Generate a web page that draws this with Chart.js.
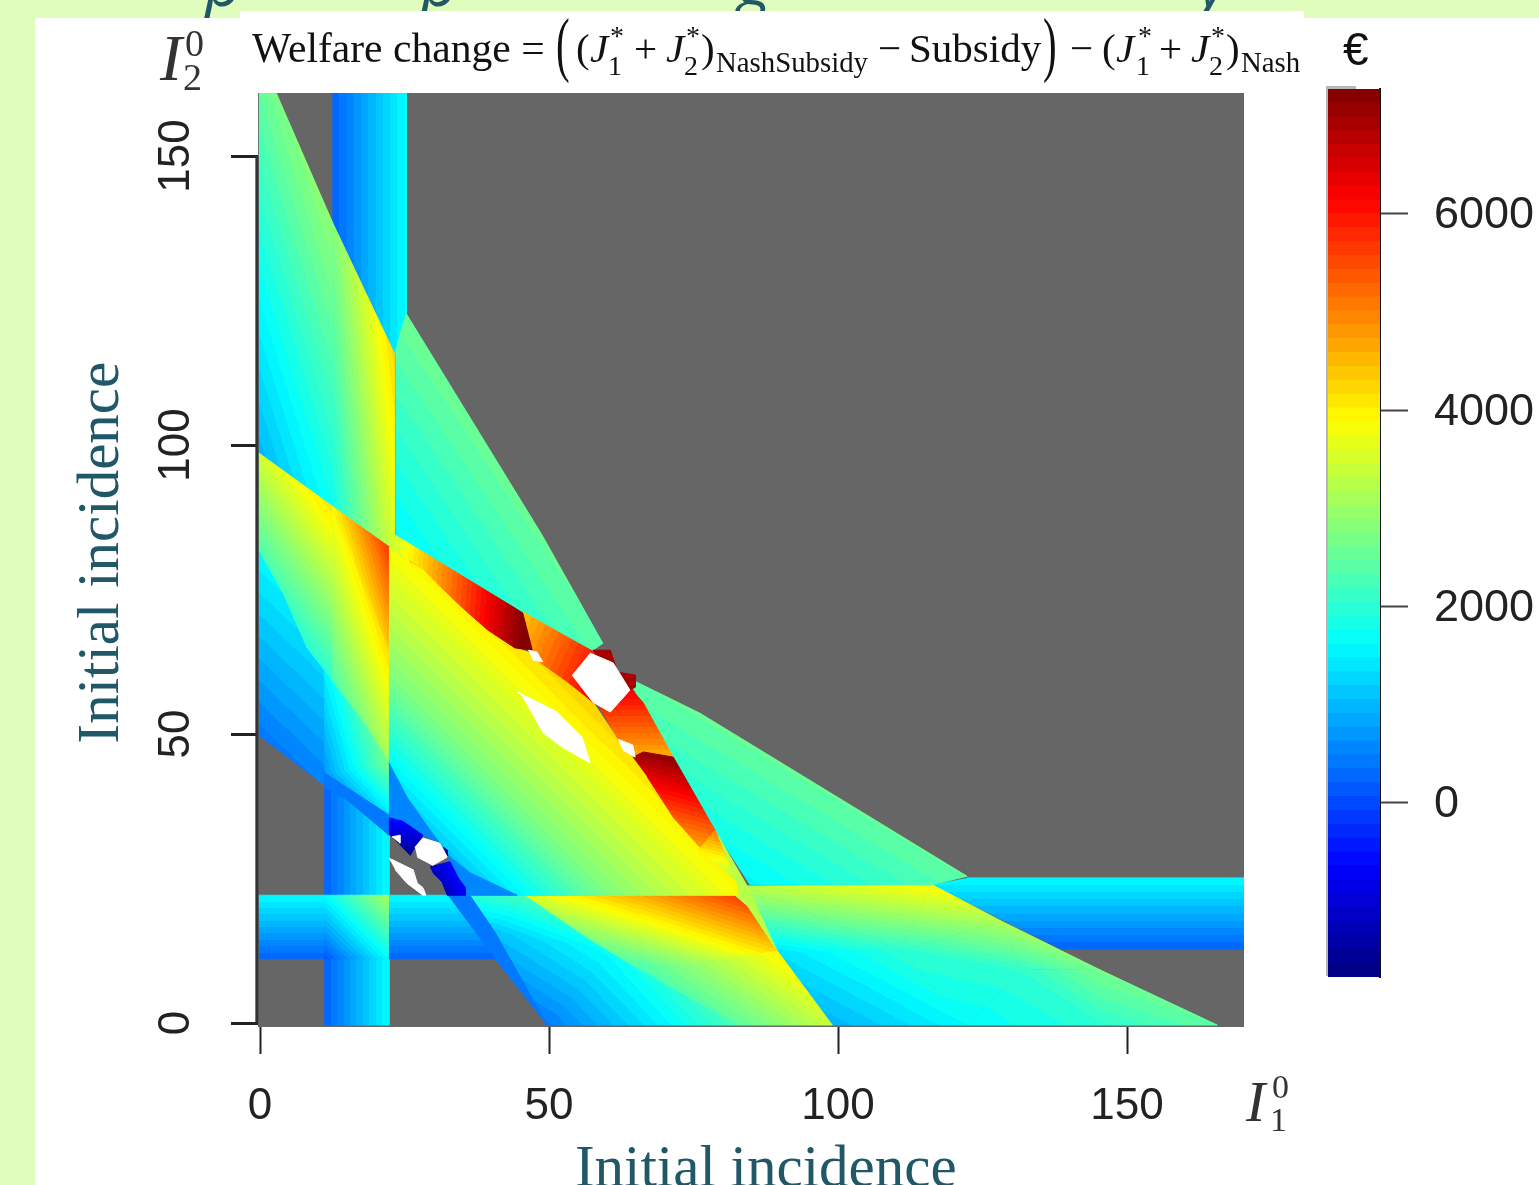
<!DOCTYPE html>
<html>
<head>
<meta charset="utf-8">
<title>Welfare change</title>
<script src="https://cdn.jsdelivr.net/npm/chart.js@4"></script>
<style>
  html, body { margin: 0; padding: 0; background: #fff; }
  #page { position: relative; width: 1539px; height: 1185px; overflow: hidden; background: #e1fdbe; }
  .panel { position: absolute; background: #fff; }
  #main { position: absolute; left: 0; top: 0; }
  #bar { position: absolute; left: 1328px; top: 36px; }
  .t { position: absolute; white-space: pre; line-height: 1; font-family: "Liberation Serif", serif; color: #111; font-size: 41px; }
  .i { font-style: italic; }
  .s { font-size: 28px; }
  .n { font-size: 28.8px; }
  .big { transform: scale(1, 1.75); transform-origin: 0 62%; }
  .head { position: absolute; white-space: pre; line-height: 1; font: italic 64px "Open Sans", sans-serif; color: #215868; top: -62px; }
</style>
</head>
<body>
<div id="page">
  <span class="head" style="left:205px">p</span>
  <span class="head" style="left:421px">p</span>
  <span class="head" style="left:738px">g</span>
  <span class="head" style="left:1198px">y</span>
  <div class="panel" style="left:35px;top:18px;width:1504px;height:1167px"></div>
  <div class="panel" style="left:240px;top:11px;width:1064px;height:8px"></div>
  <div class="panel" style="left:1326px;top:86px;width:30px;height:890px;background:#b8b8b8"></div>
  <canvas id="main" width="1539" height="1185"></canvas>
  <canvas id="bar" width="211" height="994"></canvas>

  <span class="t" style="left:252px;top:28px;font-size:41.6px">Welfare change =</span>
  <span class="t big" style="left:556px;top:28px">(</span>
  <span class="t" style="left:576px;top:28px">(</span>
  <span class="t i" style="left:590px;top:28px">J</span>
  <span class="t s" style="left:610px;top:22px">*</span>
  <span class="t s" style="left:608px;top:52px">1</span>
  <span class="t" style="left:634px;top:28px">+</span>
  <span class="t i" style="left:666px;top:28px">J</span>
  <span class="t s" style="left:686px;top:22px">*</span>
  <span class="t s" style="left:684px;top:52px">2</span>
  <span class="t" style="left:701px;top:28px">)</span>
  <span class="t n" style="left:716px;top:48px">NashSubsidy</span>
  <span class="t" style="left:878px;top:28px">−</span>
  <span class="t" style="left:909px;top:28px">Subsidy</span>
  <span class="t big" style="left:1043px;top:28px">)</span>
  <span class="t" style="left:1070px;top:28px">−</span>
  <span class="t" style="left:1102px;top:28px">(</span>
  <span class="t i" style="left:1116px;top:28px">J</span>
  <span class="t s" style="left:1138px;top:22px">*</span>
  <span class="t s" style="left:1136px;top:52px">1</span>
  <span class="t" style="left:1159px;top:28px">+</span>
  <span class="t i" style="left:1191px;top:28px">J</span>
  <span class="t s" style="left:1211px;top:22px">*</span>
  <span class="t s" style="left:1209px;top:52px">2</span>
  <span class="t" style="left:1226px;top:28px">)</span>
  <span class="t n" style="left:1241px;top:48px">Nash</span>
  <span class="t" style="left:1343px;top:26px;font-family:'Liberation Sans',sans-serif;font-size:46px">€</span>

  <span class="t i" style="left:160px;top:25px;font-size:66px;color:#333">I</span>
  <span class="t" style="left:185px;top:24px;font-size:38px;color:#333">0</span>
  <span class="t" style="left:183px;top:58px;font-size:38px;color:#333">2</span>
  <span class="t i" style="left:1246px;top:1073px;font-size:58px;color:#333">I</span>
  <span class="t" style="left:1272px;top:1070px;font-size:34px;color:#333">0</span>
  <span class="t" style="left:1270px;top:1103px;font-size:34px;color:#333">1</span>
</div>

<script>
// axis ticks and colour range
const xTicks = [0, 50, 100, 150];
const yTicks = [0, 50, 100, 150];
const barTicks = [0, 2000, 4000, 6000];
const Z_MIN = -1772, Z_MAX = 7270, BANDS = 64;
// leading blanks nudge the centred titles to where they sit in the original
const xTitle = '  Initial incidence';
const yTitle = ' Initial incidence';

// each region: outline in (I1, I2), and three readings [I1, I2, euro] that fix its colour ramp
const stripTopX = [12.5, 25.3, 25.3, 24.2, 23.9, 23.2, 12.5];
const stripTopY = [160.9, 160.9, 122.7, 119, 115.9, 115.9, 138.6];
const stripTopZ = [[12.5, 150, 208], [12.5, 130, 208], [25.3, 150, 1650]];

const fanAX = [-0.2, 2.8, 12.5, 12.5, -0.2];
const fanAY = [160.9, 160.9, 138.6, 89.4, 98.6];
const fanAZ = [[0, 159.7, 2450], [0, 100.9, 1050], [12.5, 92.2, 1800]];

const fanBX = [12.5, 23.2, 23.2, 22.3, 12.5];
const fanBY = [138.6, 115.9, 83.6, 82.4, 89.4];
const fanBZ = [[12.5, 135.5, 2700], [12.5, 92.2, 1800], [22.8, 99.1, 3800]];

const upperRightX = [23.4, 24.2, 25.3, 48.8, 59.3, 57.6, 44.1, 23.4];
const upperRightY = [115.9, 119, 122.7, 84.4, 65.7, 64.5, 71.8, 84.4];
const upperRightZ = [[23.7, 85.3, 1620], [24.7, 119.9, 2500], [48.4, 84.4, 2500]];

const midLeftX = [-0.2, 12.5, 12.5, 8.1, 4, -0.2];
const midLeftY = [98.6, 89.4, 59.3, 65, 74.4, 81.8];
const midLeftZ = [[0, 97.9, 3450], [0, 83.6, 2454], [9.9, 83.6, 3450]];

const lowLeftX = [-0.2, 4, 8.1, 11.1, 11.1, -0.2];
const lowLeftY = [81.8, 74.4, 65, 61.1, 41.2, 49.8];
const lowLeftZ = [[0, 80.1, 1550], [0, 51.9, 500], [10.4, 59.3, 1150]];

const lowMidAX = [11.1, 12.5, 19, 22.3, 11.1];
const lowMidAY = [61.1, 59.5, 51, 45.5, 43.3];
const lowMidAZ = [[12.1, 60.2, 1650], [22.1, 45, 2650], [12.1, 43.8, 900]];

const lowMidBX = [22.3, 22.3, 15.6, 11.1];
const lowMidBY = [45.5, 36, 39.4, 43.3];
const lowMidBZ = [[22.1, 45, 2650], [22.1, 36.5, 1450], [12.1, 43.4, 900]];

const midPeakAX = [12.5, 22.3, 22.3];
const midPeakAY = [89.4, 82.4, 64.5];
const midPeakAZ = [[12.5, 89.1, 3900], [21.6, 82.2, 5500], [21.6, 64.5, 4200]];

const midPeakBX = [12.5, 22.3, 12.5];
const midPeakBY = [89.4, 64.5, 59.3];
const midPeakBZ = [[12.5, 89.4, 3900], [22.3, 64.5, 4200], [12.5, 59.3, 2300]];

const midPeakCX = [22.3, 22.3, 19, 12.5];
const midPeakCY = [64.5, 45.5, 50.7, 59.3];
const midPeakCZ = [[22.3, 64.5, 4200], [22.3, 49.3, 3350], [12.5, 59.3, 2300]];

const bandLeftX = [11.1, 22.3, 22.3, 15.1, 11.1];
const bandLeftY = [43.3, 36, 32.5, 38.6, 40.8];
const bandLeftZ = [[11.1, 43.3, 480], [22.3, 36, 480], [22.3, 32.5, 480]];

const stripLowAX = [11.1, 15.1, 22.3, 22.3, 11.1];
const stripLowAY = [40.8, 38.6, 32.5, 22.1, 22.1];
const stripLowAZ = [[11.1, 30, 208], [11.1, 25, 208], [22.3, 30, 1620]];

const stripLowBX = [11.1, 22.3, 22.3, 11.1];
const stripLowBY = [11.1, 11.1, -0.35, -0.35];
const stripLowBZ = [[11.1, 8, 208], [11.1, 4, 208], [22.3, 8, 1620]];

const stripLeftX = [-0.2, 11.1, 11.1, -0.2];
const stripLeftY = [22.1, 22.1, 11.1, 11.1];
const stripLeftZ = [[5, 22.1, 1620], [8, 22.1, 1620], [5, 11.1, 208]];

const crossX = [11.1, 22.3, 22.3, 11.1];
const crossY = [22.1, 22.1, 11.1, 11.1];
const crossZ = [[22.3, 22.1, 3150], [22.3, 11.1, 1620], [11.1, 22.1, 1620]];

const stripMidX = [22.3, 32.5, 40.7, 22.3];
const stripMidY = [22.1, 22.1, 11.1, 11.1];
const stripMidZ = [[30, 22.1, 1620], [25, 22.1, 1620], [30, 11.1, 208]];

const stripRightX = [122.3, 170.3, 170.3, 138.6, 116.3];
const stripRightY = [25.1, 25.1, 12.8, 12.8, 23.9];
const stripRightZ = [[130, 25.1, 1620], [140, 25.1, 1620], [130, 12.8, 208]];

const bandDiagX = [32.5, 36.3, 40.7, 49.7, 40.7];
const bandDiagY = [22.1, 22.1, 15.6, -0.35, 11.1];
const bandDiagZ = [[32.5, 22.1, 480], [36.3, 22.1, 480], [49.7, 0, 480]];

// lower fan: readings at mesh nodes, joined into triangles
const footNodeX = [36.3, 45.8, 60.6, 82.7, 49.7, 40.7, 65.7];
const footNodeY = [22.1, 22.1, 12.6, -0.35, -0.35, 15.6, -0.35];
const footNodeZ = [1950, 2250, 1700, 2300, 450, 1100, 1300];
const footTriangles = [[0, 1, 5], [1, 2, 5], [5, 2, 4], [2, 6, 4], [2, 3, 6]];

// lower right area, same way
const rightNodeX = [83.9, 116.3, 128.5, 145.3, 165.6, 145.3, 122.5, 98.6, 89.6, 110.7, 131.5];
const rightNodeY = [23.7, 23.9, 17.5, 9.2, -0.35, -0.35, -0.35, -0.35, 12.1, 12.6, 9.2];
const rightNodeZ = [3250, 3950, 3150, 2650, 2450, 2000, 1620, 950, 1350, 2000, 2050];
const rightTriangles = [[0, 1, 9], [0, 9, 8], [1, 2, 9], [2, 10, 9], [2, 3, 10], [3, 4, 5], [3, 5, 10], [10, 5, 6], [9, 10, 6], [8, 9, 6], [8, 6, 7]];

const ridgeAX = [45.8, 65.7, 65.7, 56.4];
const ridgeAY = [22.1, 22.1, 9.2, 14.9];
const ridgeAZ = [[48.4, 21.8, 3600], [64.4, 21.8, 4500], [64.4, 10, 2300]];

const ridgeBX = [65.7, 82.2, 84.4, 89.4, 65.7];
const ridgeBY = [22.1, 22.1, 20, 12.6, 9.2];
const ridgeBZ = [[65.7, 21.8, 4550], [81.3, 21.8, 5500], [65.7, 10, 2350]];

const ridgeCX = [65.7, 89.4, 99, 82.7];
const ridgeCY = [9.2, 12.6, -0.35, -0.35];
const ridgeCZ = [[65.7, 9.5, 2300], [88.2, 12.6, 3900], [97.8, 0.5, 3400]];

const wedgeX = [64.5, 76.1, 122.3, 116.3, 84.8, 78.7, 64.5];
const wedgeY = [59.3, 53.6, 25.4, 23.9, 23.9, 33.4, 58.1];
const wedgeZ = [[67, 57.6, 2450], [84.8, 24.7, 1600], [120.2, 26, 2450]];

const sliverX = [78.7, 84.4, 89.4, 84.4, 82.2, 82.2];
const sliverY = [33.4, 23.5, 12.6, 20.2, 22.1, 24.7];
const sliverZ = [[81.8, 28.2, 3300], [84.3, 23.7, 3300], [82.2, 23, 3300]];

// centre: ramp is steeper in the lower part and flatter along the top edge
const centerX = [22.3, 25.3, 82.2, 82.7, 44.1, 36.3, 32.9, 29.4, 25.4, 22.3];
const centerY = [82, 80.4, 24.7, 22.1, 22.1, 26, 28.7, 33.4, 39.1, 45];
const centerZ = [[22.3, 60.4, 2749], [60.6, 22.1, 2749], [24.7, 80.4, 3880]];

const centerLowX = [22.3, 60.6, 44.1, 36.3, 32.9, 29.4, 25.4, 22.3];
const centerLowY = [60.4, 22.1, 22.1, 26, 28.7, 33.4, 39.1, 45];
const centerLowZ = [[22.3, 45.7, 1620], [22.3, 60.4, 2749], [60.6, 22.1, 2749]];

const centerTopX = [24.7, 28.4, 31.3, 35.5, 39.4, 44.1, 46.9, 52.8, 53.7, 57.6, 61.9, 64.5, 67, 71.5, 76.1, 82.2, 82.7];
const centerTopY = [80.4, 78.4, 75.4, 71.4, 68, 64.9, 64, 59.3, 60.2, 55.5, 49.1, 46, 42.6, 35.6, 30.4, 24.7, 22.5];
const centerTopZ = [[24.7, 80.4, 3880], [82.7, 22.5, 3880], [58.8, 54.2, 4300]];

const crestAX = [22.3, 23.4, 44.1, 45.5, 47.2, 44.1, 39.4, 35.5, 31.3, 28.4, 25.3];
const crestAY = [82, 84.4, 71.8, 70.9, 64.5, 64.9, 68, 71.4, 75.4, 78.4, 80.4];
const crestAZ = [[28.2, 80.1, 4300], [45.5, 80.1, 7100], [28.2, 62.8, 4500]];

const crestBX = [45.5, 57.1, 58.5, 58.5, 57.6, 55.4, 52.8, 48.6, 46.9, 47.2];
const crestBY = [71.1, 64.5, 64, 58, 55.5, 57.3, 59.3, 62.3, 64, 64.5];
const crestBZ = [[46.7, 68.9, 4600], [55.4, 63.7, 5700], [46.7, 64.5, 4800]];

const crestCX = [57.6, 60.6, 64, 66.3, 71.5, 64.9, 64.5, 61.9];
const crestCY = [56.5, 57, 58, 55.4, 46, 46, 48.1, 49.1];
const crestCZ = [[60.6, 54.7, 5800], [67.5, 54.7, 5800], [60.6, 47.7, 4800]];

const crestDX = [64.5, 66.3, 71.5, 78.7, 82.2, 76.1, 71.5, 67];
const crestDY = [46, 46.9, 46, 33.4, 24.7, 30.4, 35.6, 42.6];
const crestDZ = [[69.7, 44.3, 6800], [75.6, 44.3, 7072], [69.7, 33.9, 5000]];

const crestEX = [75.9, 78.7, 82.2];
const crestEY = [29.9, 33.4, 24.7];
const crestEZ = [[77.2, 31.1, 4400], [80.3, 28.7, 4000], [79.6, 31.7, 4700]];

const darkAX = [57.6, 60.6, 60.9, 59];
const darkAY = [64.5, 64.5, 62.5, 62];
const darkAZ = [[57.6, 64.5, 6900], [60.6, 64.5, 6900], [60.9, 62.5, 6900]];

const darkBX = [60.6, 61.9, 64.9, 64.9, 64, 61];
const darkBY = [64.5, 60.7, 60.2, 58.1, 57.6, 59];
const darkBZ = [[61.9, 60.7, 6900], [64.9, 60.2, 6900], [64.9, 58.1, 6900]];

const lowBandX = [22.3, 25.4, 29.4, 32.9, 36.3, 44.5, 35.5, 35.5, 34.3, 32.9, 32.4, 31.1, 28.2, 24.7, 22.3];
const lowBandY = [45, 39.1, 33.4, 28.7, 26, 22.1, 22.1, 23.5, 25, 28, 29.2, 31.1, 32.5, 34.9, 35.5];
const lowBandZ = [[22.3, 45, 500], [25.4, 39.1, 500], [22.3, 35.5, 500]];

const deepAX = [22.3, 24.7, 28.2, 26.8, 26, 23.4, 22.3];
const deepAY = [35.5, 34.9, 32.5, 30.4, 29, 31.7, 32.7];
const deepAZ = [[22.8, 34.8, -650], [26.8, 30.8, -1250], [24.2, 32, -1100]];

const deepBX = [31.7, 32.4, 32.4];
const deepBY = [30.4, 29.9, 28.7];
const deepBZ = [[31.7, 30.4, -1500], [32.4, 29.9, -1500], [32.4, 28.7, -1500]];

const deepCX = [29.4, 32.9, 34.3, 35.5, 35.5, 32.4, 31.5, 29.9];
const deepCY = [27, 27.9, 25.1, 23.5, 22.1, 22.1, 24.4, 26];
const deepCZ = [[29.4, 26.5, -1250], [34.9, 23.4, -700], [32.4, 22.5, -1150]];

// no value available: white holes
const holeAX = [46.4, 47.9, 48.9, 47.2];
const holeAY = [64.5, 64.2, 62.5, 62.8];
const holeBX = [57.1, 61.1, 64, 60.6, 57.6, 54];
const holeBY = [64, 62.3, 57.6, 53.8, 55.5, 60.2];
const holeCX = [44.5, 51.4, 55.7, 57.1, 52.2, 49, 45.5];
const holeCY = [57.3, 53.8, 49.5, 45, 47.8, 50.2, 56.4];
const holeDX = [61.9, 64.5, 64.9, 62.8];
const holeDY = [49.1, 48.1, 46, 47.2];
const holeEX = [26.8, 28.2, 31.1, 32.4, 29.9, 27.2];
const holeEY = [30.4, 32, 31.1, 28.7, 27.3, 28.7];
const holeFX = [22.8, 24.2, 24.2];
const holeFY = [32.2, 32.5, 31.1];
const holeGX = [22.3, 23, 26.5, 27.2, 28.2, 28.7, 28.2, 25.4, 23.4];
const holeGY = [28.5, 28.2, 26.5, 24.2, 23.4, 22.1, 22.1, 24.2, 26.5];

// mesh triangles as regions: the three nodes are also the three readings
const meshRegions = (nx, ny, nz, tris) => tris.map(tri => [
    tri.map(i => nx[i]),
    tri.map(i => ny[i]),
    tri.map(i => [nx[i], ny[i], nz[i]]),
]);

// drawn bottom to top
const regions = [
    [stripTopX, stripTopY, stripTopZ], [fanAX, fanAY, fanAZ], [fanBX, fanBY, fanBZ],
    [upperRightX, upperRightY, upperRightZ], [lowLeftX, lowLeftY, lowLeftZ],
    [lowMidAX, lowMidAY, lowMidAZ], [lowMidBX, lowMidBY, lowMidBZ],
    [midLeftX, midLeftY, midLeftZ], [midPeakAX, midPeakAY, midPeakAZ],
    [midPeakBX, midPeakBY, midPeakBZ], [midPeakCX, midPeakCY, midPeakCZ],
    [stripLowAX, stripLowAY, stripLowAZ], [bandLeftX, bandLeftY, bandLeftZ],
    [stripLowBX, stripLowBY, stripLowBZ], [stripLeftX, stripLeftY, stripLeftZ],
    [crossX, crossY, crossZ], [stripMidX, stripMidY, stripMidZ], [stripRightX, stripRightY, stripRightZ],
    ...meshRegions(footNodeX, footNodeY, footNodeZ, footTriangles),
    [bandDiagX, bandDiagY, bandDiagZ],
    ...meshRegions(rightNodeX, rightNodeY, rightNodeZ, rightTriangles),
    [ridgeCX, ridgeCY, ridgeCZ], [ridgeAX, ridgeAY, ridgeAZ], [ridgeBX, ridgeBY, ridgeBZ],
    [wedgeX, wedgeY, wedgeZ], [sliverX, sliverY, sliverZ],
    [centerX, centerY, centerZ], [centerLowX, centerLowY, centerLowZ], [centerTopX, centerTopY, centerTopZ],
    [crestAX, crestAY, crestAZ], [crestBX, crestBY, crestBZ],
    [crestCX, crestCY, crestCZ], [crestDX, crestDY, crestDZ], [crestEX, crestEY, crestEZ],
    [darkAX, darkAY, darkAZ], [darkBX, darkBY, darkBZ],
    [lowBandX, lowBandY, lowBandZ], [deepAX, deepAY, deepAZ], [deepBX, deepBY, deepBZ], [deepCX, deepCY, deepCZ],
    [holeAX, holeAY, null], [holeBX, holeBY, null], [holeCX, holeCY, null], [holeDX, holeDY, null],
    [holeEX, holeEY, null], [holeFX, holeFY, null], [holeGX, holeGY, null],
];

const X_MIN = -0.35, X_MAX = 170.24, Y_MIN = -0.69, Y_MAX = 160.9;
const GREY = '#666666';
const INK = '#222222';
const TEAL = '#215868';

function jetColor(i) {
    const t = (i + 0.5) / BANDS;
    const c = v => Math.round(255 * Math.max(0, Math.min(1, v)));
    const r = c(Math.min(4 * t - 1.5, -4 * t + 4.5));
    const g = c(Math.min(4 * t - 0.5, -4 * t + 3.5));
    const b = c(Math.min(4 * t + 0.5, -4 * t + 2.5));
    return `rgb(${r},${g},${b})`;
}

const bandStep = (Z_MAX - Z_MIN) / BANDS;
const bandIndex = z => Math.max(0, Math.min(BANDS - 1, Math.floor((z - Z_MIN) / bandStep)));

// stepped jet ramp along the slope of the three readings
function regionPaint(ctx) {
    const ds = ctx.dataset;
    if (!ds.field) return '#ffffff';
    const xs = ctx.chart.scales.x, ys = ctx.chart.scales.y;
    if (!xs || !ys || !ctx.chart.chartArea) return GREY;
    const px = ds.field.map(([x, y, z]) => [xs.getPixelForValue(x), ys.getPixelForValue(y), z]);
    const [p0, p1, p2] = px;
    if (p0[2] === p1[2] && p1[2] === p2[2]) return jetColor(bandIndex(p0[2]));
    const ax = p1[0] - p0[0], ay = p1[1] - p0[1], az = p1[2] - p0[2];
    const bx = p2[0] - p0[0], by = p2[1] - p0[1], bz = p2[2] - p0[2];
    const det = ax * by - bx * ay;
    const gx = (az * by - bz * ay) / det;
    const gy = (ax * bz - bx * az) / det;
    const n2 = gx * gx + gy * gy;
    if (!Number.isFinite(n2) || n2 === 0) return jetColor(bandIndex(p0[2]));
    const zs = ds.data.map(p => p0[2] + gx * (xs.getPixelForValue(p.x) - p0[0]) + gy * (ys.getPixelForValue(p.y) - p0[1]));
    const lo = Math.min(...zs), hi = Math.max(...zs);
    const at = z => [p0[0] + gx * (z - p0[2]) / n2, p0[1] + gy * (z - p0[2]) / n2];
    const grad = ctx.chart.ctx.createLinearGradient(...at(lo), ...at(hi));
    for (let i = 0; i < BANDS; i++) {
        const a = i === 0 ? -Infinity : Z_MIN + i * bandStep;
        const b = i === BANDS - 1 ? Infinity : Z_MIN + (i + 1) * bandStep;
        if (b <= lo || a >= hi) continue;
        const col = jetColor(i);
        grad.addColorStop((Math.max(a, lo) - lo) / (hi - lo), col);
        grad.addColorStop((Math.min(b, hi) - lo) / (hi - lo), col);
    }
    return grad;
}

const regionSets = regions.map(([xs, ys, field]) => ({
    data: xs.map((x, i) => ({ x, y: ys[i] })),
    field,
    showLine: true,
    fill: 'shape',
    tension: 0,
    pointRadius: 0,
    borderWidth: 1,
    backgroundColor: regionPaint,
    borderColor: regionPaint,
}));

const plotBack = {
    data: [{ x: X_MIN, y: Y_MIN }, { x: X_MAX, y: Y_MIN }, { x: X_MAX, y: Y_MAX }, { x: X_MIN, y: Y_MAX }],
    showLine: true, fill: 'shape', tension: 0, pointRadius: 0, borderWidth: 0,
    backgroundColor: GREY, borderColor: GREY,
};
const yAxisLine = {
    data: [{ x: -0.55, y: 0 }, { x: -0.55, y: 150 }],
    showLine: true, fill: false, pointRadius: 0, borderWidth: 3, borderColor: '#333333', clip: false,
};

// first dataset is painted last
const datasets = [yAxisLine, ...regionSets.reverse(), plotBack];

const fixedTicks = values => scale => { scale.ticks = values.map(value => ({ value })); };

new Chart(document.getElementById('main'), {
    type: 'scatter',
    data: { datasets },
    options: {
        responsive: false,
        animation: false,
        events: [],
        layout: { padding: { left: 0, top: 93, right: 295, bottom: 0 } },
        plugins: {
            legend: { display: false },
            tooltip: { enabled: false },
            filler: { drawTime: 'beforeDatasetDraw' },
        },
        scales: {
            x: {
                type: 'linear',
                min: X_MIN, max: X_MAX,
                afterBuildTicks: fixedTicks(xTicks),
                afterFit: s => { s.height = 158; },
                border: { display: false },
                grid: { drawOnChartArea: false, tickLength: 27, tickWidth: 2, tickColor: INK },
                ticks: {
                    autoSkip: false, maxRotation: 0, padding: 26, color: INK,
                    font: { family: 'Liberation Sans', size: 44 },
                },
                title: {
                    display: true, text: xTitle, color: TEAL,
                    font: { family: 'Liberation Serif', size: 59 },
                    padding: { top: 0, bottom: -21 },
                },
            },
            y: {
                type: 'linear',
                min: Y_MIN, max: Y_MAX,
                afterBuildTicks: fixedTicks(yTicks),
                afterFit: s => { s.width = 258; },
                border: { display: false },
                grid: { drawOnChartArea: false, tickLength: 27, tickWidth: 3, tickColor: INK },
                ticks: {
                    autoSkip: false, minRotation: 90, maxRotation: 90, crossAlign: 'center', padding: 17, color: INK,
                    font: { family: 'Liberation Sans', size: 44 },
                },
                title: {
                    display: true, text: yTitle, color: TEAL,
                    font: { family: 'Liberation Serif', size: 59 },
                    padding: { top: 67, bottom: 0 },
                },
            },
        },
    },
});

// colour key: one floating bar per band
const barSets = [];
for (let i = 0; i < BANDS; i++) {
    barSets.push({
        data: [[Z_MIN + i * bandStep, Z_MIN + (i + 1) * bandStep + 2]],
        backgroundColor: jetColor(i),
        borderWidth: 0,
    });
}

new Chart(document.getElementById('bar'), {
    type: 'bar',
    data: { labels: [''], datasets: barSets },
    options: {
        responsive: false,
        animation: false,
        events: [],
        layout: { padding: { top: 28, bottom: 24 } },
        plugins: { legend: { display: false }, tooltip: { enabled: false } },
        datasets: { bar: { grouped: false, categoryPercentage: 1, barPercentage: 1 } },
        scales: {
            x: { display: false },
            y: {
                position: 'right',
                min: Z_MIN, max: Z_MAX,
                afterBuildTicks: fixedTicks(barTicks),
                afterFit: s => { s.width = 159; },
                border: { display: true, color: '#111111', width: 2 },
                grid: { drawOnChartArea: false, tickLength: 28, tickWidth: 2, tickColor: '#444444' },
                ticks: {
                    autoSkip: false, padding: 26, color: INK, labelOffset: 2,
                    callback: v => String(v),
                    font: { family: 'Liberation Sans', size: 45 },
                },
            },
        },
    },
});
</script>
</body>
</html>
